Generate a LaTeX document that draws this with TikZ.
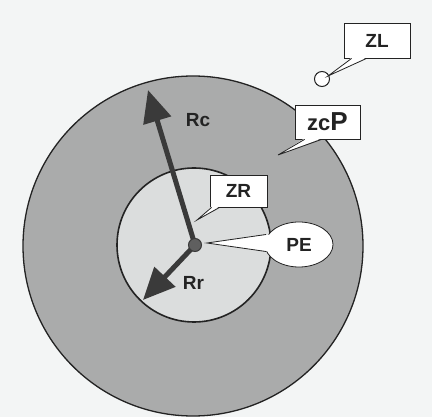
\documentclass[tikz,border=0pt]{standalone}
\usepackage{fontspec}
\setmainfont{Liberation Sans}
\usetikzlibrary{arrows.meta,shapes.geometric,calc}
\definecolor{bg}{RGB}{243,245,245}
\definecolor{ring}{RGB}{170,171,171}
\definecolor{innerc}{RGB}{219,221,221}
\definecolor{ink}{RGB}{35,35,35}
\definecolor{arr}{RGB}{58,58,58}
\definecolor{dotc}{RGB}{95,95,95}
\begin{document}
\begin{tikzpicture}[x=1pt,y=-1pt,
  lbl/.style={font=\bfseries\fontsize{19}{19}\selectfont, text=ink, inner sep=0pt},
  callbox/.style={draw=ink, line width=0.8pt, fill=white, rectangle, inner sep=0pt,
                  font=\bfseries\fontsize{19}{19}\selectfont, text=ink},
  bigarrow/.style={draw=arr, line width=5pt,
                   -{Triangle[length=32pt,width=28pt,fill=arr]}},
  tailfill/.style={fill=white},
  tailline/.style={draw=ink, line width=0.8pt}]
\fill[bg] (0,0) rectangle (432,417);
\useasboundingbox (0,0) rectangle (432,417);
% circles
\node[circle, minimum size=340pt, fill=ring, draw=ink, line width=1.3pt, inner sep=0pt] (outer) at (193,246) {};
\node[circle, minimum size=154pt, fill=innerc, draw=ink, line width=1.6pt, inner sep=0pt] (inner) at (194,245) {};
% arrows
\coordinate (ctr) at (195,245);
\coordinate (rctip) at (148,90);
\coordinate (rrtip) at (143,300);
\draw[bigarrow] (ctr) -- (rctip);
\draw[bigarrow] (ctr) -- (rrtip);
\node[circle, minimum size=13pt, inner sep=0pt, fill=dotc, draw=arr, line width=1pt] (dot) at (ctr) {};
\node[lbl, anchor=base] (rc) at (198,127) {Rc};
\node[lbl, anchor=base] (rr) at (193.5,290) {Rr};
% ZL
\node[circle, minimum size=15pt, inner sep=0pt, fill=white, draw=ink, line width=1pt] (zlc) at (322,79) {};
\node[callbox, minimum width=66pt, minimum height=35pt] (zl) at (377,40.5) {ZL};
\coordinate (zla) at ($(zl.south west)+(8,0)$);
\coordinate (zlb) at ($(zl.south west)+(23,0)$);
\coordinate (zltip) at ($(zlc.center)+(6,-3)$);
\fill[tailfill] ([yshift=1pt]zla) -- (zltip) -- ([yshift=1pt]zlb) -- cycle;
\draw[tailline] (zla) -- (zltip) -- (zlb);
% zcP
\node[callbox, minimum width=65pt, minimum height=34pt] (zcp) at (327.5,122)
  {\fontsize{22}{22}\selectfont zc\fontsize{26}{26}\selectfont P};
\coordinate (zca) at ($(zcp.south west)+(10,0)$);
\coordinate (zcb) at ($(zcp.south west)+(27,0)$);
\coordinate (zctip) at (278,155);
\fill[tailfill] ([yshift=1pt]zca) -- (zctip) -- ([yshift=1pt]zcb) -- cycle;
\draw[tailline] (zca) -- (zctip) -- (zcb);
% ZR
\node[callbox, minimum width=57pt, minimum height=32pt] (zr) at (238.5,191) {ZR};
\coordinate (zra) at ($(zr.south west)+(2,0)$);
\coordinate (zrb) at ($(zr.south west)+(10,0)$);
\coordinate (zrtip) at (197,220);
\fill[tailfill] ([yshift=1pt]zra) -- (zrtip) -- ([yshift=1pt]zrb) -- cycle;
\draw[tailline] (zra) -- (zrtip) -- (zrb);
% PE
\node[ellipse, minimum width=68pt, minimum height=45pt, inner sep=0pt, fill=white,
      draw=ink, line width=0.8pt, font=\bfseries\fontsize{19}{19}\selectfont, text=ink] (pe) at (299,244.5) {PE};
\coordinate (pea) at ($(pe.center)+(-33,-10)$);
\coordinate (peb) at ($(pe.center)+(-33,7)$);
\coordinate (petip) at (207,243);
\fill[tailfill] ([xshift=3pt]pea) -- (petip) -- ([xshift=3pt]peb) -- cycle;
\draw[tailline] (pea) -- (petip) -- (peb);
\end{tikzpicture}
\end{document}
